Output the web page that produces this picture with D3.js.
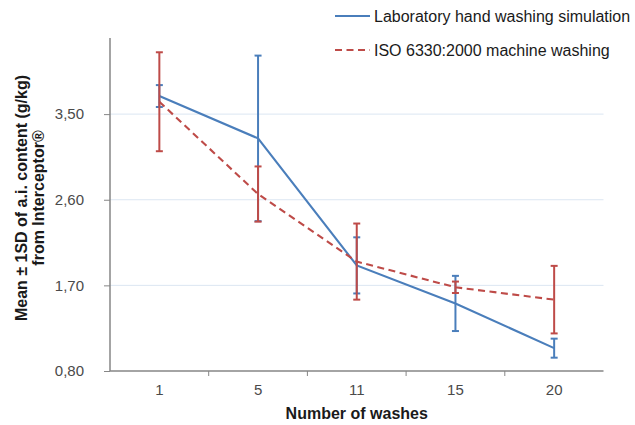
<!DOCTYPE html>
<html><head><meta charset="utf-8">
<script src="https://cdn.jsdelivr.net/npm/d3@7"></script>
<style>body{margin:0;background:#fff}svg{display:block}text{font-family:"Liberation Sans",Arial,sans-serif}</style>
</head><body>
<svg id="c" width="635" height="425"></svg>
<script>
const categories = ["1","5","11","15","20"];
const labMean = [3.69, 3.245, 1.91, 1.51, 1.04];
const labSD   = [0.115, 0.87, 0.295, 0.29, 0.10];
const isoMean = [3.63, 2.66, 1.95, 1.68, 1.55];
const isoSD   = [0.52, 0.29, 0.40, 0.06, 0.355];
const yTicks  = [0.8, 1.7, 2.6, 3.5];
const seriesNames = ["Laboratory hand washing simulation", "ISO 6330:2000 machine washing"];

const svg = d3.select("#c");
const L = 110, R = 603.5, T = 38, B = 371;
const x = d3.scaleBand().domain(categories).range([L, R]);
const y = d3.scaleLinear().domain([0.8, 4.3]).range([B, T]);
const axisColor = "#868686";
const font = '"Liberation Sans",Arial,sans-serif';

// gridlines
svg.append("g").selectAll("line").data(yTicks.filter(d => d > 0.8)).join("line")
  .attr("x1", L).attr("x2", R).attr("y1", d => y(d)).attr("y2", d => y(d))
  .attr("stroke", "#dce6f2").attr("stroke-width", 1);

// y axis
const yAxis = svg.append("g").attr("transform", `translate(${L},0)`)
  .call(d3.axisLeft(y).tickValues(yTicks).tickSize(6).tickPadding(20)
    .tickFormat(d => d3.format(".2f")(d).replace(".", ",")));
yAxis.select(".domain").attr("stroke", axisColor).attr("stroke-width", 1.5).attr("d", `M0,${T}V${B}`);
yAxis.selectAll(".tick line").attr("stroke", axisColor);
yAxis.selectAll(".tick text").attr("font-size", 15).attr("fill", "#4a4a4a").attr("font-family", font);

// x axis
const xAxis = svg.append("g").attr("transform", `translate(0,${B})`)
  .call(d3.axisBottom(x).tickSize(0).tickPadding(13));
xAxis.select(".domain").attr("stroke", axisColor).attr("stroke-width", 1.5).attr("d", `M${L},0H${R}`);
xAxis.selectAll(".tick text").attr("font-size", 15).attr("fill", "#4a4a4a").attr("font-family", font);
svg.append("g").selectAll("line").data(categories.slice(1)).join("line")
  .attr("x1", d => x(d)).attr("x2", d => x(d)).attr("y1", B).attr("y2", B + 5)
  .attr("stroke", axisColor).attr("stroke-width", 1);

// axis titles
svg.append("text").attr("x", (L + R) / 2).attr("y", 419).attr("text-anchor", "middle")
  .attr("font-size", 16).attr("font-weight", "bold").attr("fill", "#1a1a1a").text("Number of washes");
const yt = svg.append("text").attr("transform", "translate(0,198) rotate(-90)")
  .attr("text-anchor", "middle").attr("font-size", 16).attr("font-weight", "bold").attr("fill", "#1a1a1a");
yt.append("tspan").attr("x", 0).attr("y", 27).text("Mean \u00b1 1SD of a.i. content (g/kg)");
yt.append("tspan").attr("x", 0).attr("y", 44).text("from Interceptor\u00ae");

// series
const cx = d => x(d) + x.bandwidth() / 2;
function drawSeries(means, sds, color, dash) {
  const pts = categories.map((c, i) => ({c, m: means[i], s: sds[i]}));
  svg.append("path").datum(pts)
    .attr("d", d3.line().x(d => cx(d.c)).y(d => y(d.m)))
    .attr("fill", "none").attr("stroke", color).attr("stroke-width", 2.1)
    .attr("stroke-dasharray", dash || null);
  const g = svg.append("g").attr("stroke", color).attr("stroke-width", 2);
  g.selectAll("line.v").data(pts).join("line").attr("class", "v")
    .attr("x1", d => cx(d.c)).attr("x2", d => cx(d.c))
    .attr("y1", d => y(d.m + d.s)).attr("y2", d => y(d.m - d.s));
  g.selectAll("line.t").data(pts).join("line").attr("class", "t")
    .attr("x1", d => cx(d.c) - 3.5).attr("x2", d => cx(d.c) + 3.5)
    .attr("y1", d => y(d.m + d.s)).attr("y2", d => y(d.m + d.s));
  g.selectAll("line.b").data(pts).join("line").attr("class", "b")
    .attr("x1", d => cx(d.c) - 3.5).attr("x2", d => cx(d.c) + 3.5)
    .attr("y1", d => y(d.m - d.s)).attr("y2", d => y(d.m - d.s));
}
const blue = "#4a7ebb", red = "#be4b48";
drawSeries(labMean, labSD, blue, null);
drawSeries(isoMean, isoSD, red, "7,4.5");

// legend
const leg = svg.append("g");
[[blue, null, 16, 22], [red, "7,4.5", 50, 56]].forEach(([col, dash, yy, ty], i) => {
  leg.append("line").attr("x1", 335).attr("x2", 370).attr("y1", yy).attr("y2", yy)
    .attr("stroke", col).attr("stroke-width", 2).attr("stroke-dasharray", dash);
  leg.append("text").attr("x", 374).attr("y", ty).attr("font-size", 16).attr("fill", "#1a1a1a")
    .text(seriesNames[i]);
});
</script>
</body></html>
